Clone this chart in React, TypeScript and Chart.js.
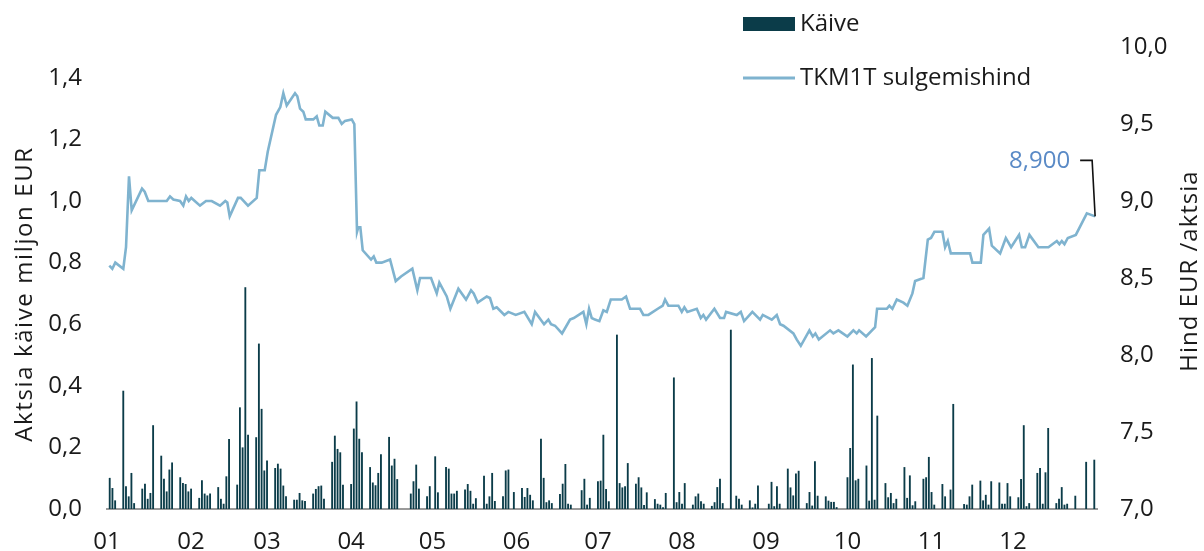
import React, { useEffect, useRef } from "react";
import { Chart, registerables } from "chart.js";

Chart.register(...registerables);

// Day of year (0 = 1 Jan) of each drawn price vertex, and the closing price (EUR)
const priceDays = [0.85, 1.95, 3.06, 6.01, 7.01, 8.11, 9.11, 12.91, 13.9, 15.23, 22.01, 23.23, 24.45, 26.92, 28.13, 29.13, 30.13, 31.08, 34.29, 36.5, 38.61, 41.67, 43.62, 44.36, 45.24, 48.3, 49.3, 51.99, 55.2, 56.16, 58.15, 59.26, 62.32, 63.9, 65.01, 66.26, 69.32, 70.17, 71.17, 72.38, 73.27, 76.07, 77.32, 78.28, 79.54, 80.49, 83.22, 85.29, 86.54, 87.76, 90.23, 91.19, 92.18, 92.66, 93.4, 94.28, 97.35, 98.34, 99.3, 101.29, 104.35, 106.45, 108.41, 112.57, 114.42, 115.41, 119.47, 121.57, 122.53, 125.26, 126.59, 129.54, 132.37, 134.22, 135.2, 136.69, 140.01, 141.2, 142.44, 143.69, 146.5, 147.97, 150.7, 153.87, 156.6, 157.82, 161.14, 162.72, 163.7, 165.19, 167.77, 170.72, 172.1, 175.63, 176.73, 177.73, 178.72, 179.9, 181.53, 183.0, 184.26, 185.73, 189.79, 191.37, 192.85, 196.53, 197.75, 199.6, 203.91, 204.9, 205.75, 206.97, 210.66, 211.91, 212.87, 213.97, 217.44, 218.91, 219.87, 220.87, 223.93, 226.03, 227.5, 228.24, 232.19, 233.67, 234.88, 237.94, 240.78, 241.78, 245.1, 246.94, 248.16, 249.4, 253.06, 254.31, 255.79, 258.96, 260.21, 261.17, 262.43, 266.59, 267.81, 269.66, 272.97, 275.18, 276.4, 277.29, 279.87, 283.19, 283.92, 287.5, 288.46, 289.57, 291.19, 293.62, 295.1, 296.94, 297.94, 301.0, 302.62, 303.8, 305.05, 308.0, 309.0, 309.99, 311.1, 318.21, 319.06, 322.16, 323.12, 325.22, 326.22, 329.28, 331.38, 333.33, 336.28, 337.28, 338.5, 340.08, 343.4, 347.09, 350.18, 351.14, 352.03, 353.0, 354.24, 357.19, 361.25, 364.31];
const priceValues = [8.58, 8.56, 8.60, 8.56, 8.70, 9.16, 8.94, 9.08, 9.06, 9.00, 9.00, 9.03, 9.01, 9.00, 8.97, 9.03, 9.00, 9.02, 8.97, 9.00, 9.00, 8.97, 9.00, 8.99, 8.90, 9.02, 9.02, 8.97, 9.02, 9.20, 9.20, 9.32, 9.56, 9.61, 9.70, 9.62, 9.70, 9.68, 9.60, 9.58, 9.53, 9.53, 9.55, 9.49, 9.49, 9.58, 9.54, 9.54, 9.50, 9.52, 9.53, 9.50, 8.80, 8.83, 8.83, 8.68, 8.62, 8.64, 8.60, 8.60, 8.62, 8.48, 8.51, 8.56, 8.42, 8.50, 8.50, 8.40, 8.47, 8.38, 8.30, 8.43, 8.36, 8.42, 8.40, 8.34, 8.38, 8.37, 8.30, 8.31, 8.26, 8.28, 8.26, 8.28, 8.20, 8.28, 8.20, 8.23, 8.20, 8.19, 8.14, 8.23, 8.24, 8.28, 8.20, 8.30, 8.24, 8.23, 8.22, 8.29, 8.28, 8.36, 8.36, 8.38, 8.30, 8.30, 8.26, 8.26, 8.31, 8.32, 8.36, 8.32, 8.32, 8.28, 8.31, 8.28, 8.30, 8.24, 8.26, 8.23, 8.30, 8.24, 8.24, 8.28, 8.26, 8.28, 8.22, 8.28, 8.23, 8.26, 8.23, 8.26, 8.20, 8.19, 8.14, 8.10, 8.06, 8.16, 8.12, 8.14, 8.10, 8.16, 8.14, 8.16, 8.12, 8.16, 8.14, 8.16, 8.12, 8.18, 8.30, 8.30, 8.32, 8.30, 8.36, 8.34, 8.32, 8.40, 8.48, 8.50, 8.75, 8.76, 8.80, 8.80, 8.70, 8.74, 8.66, 8.66, 8.60, 8.60, 8.78, 8.82, 8.71, 8.66, 8.76, 8.70, 8.78, 8.70, 8.70, 8.78, 8.70, 8.70, 8.74, 8.72, 8.74, 8.72, 8.76, 8.78, 8.92, 8.90];

// Day of year of each trading day with turnover, and the turnover (million EUR)
const volDays = [1, 2, 3, 6, 7, 8, 9, 10, 13, 14, 15, 16, 17, 20, 21, 22, 23, 24, 27, 28, 29, 30, 31, 34, 35, 36, 37, 38, 41, 42, 43, 44, 45, 48, 49, 50, 51, 52, 55, 56, 57, 58, 59, 62, 63, 64, 65, 66, 69, 70, 71, 72, 73, 76, 77, 78, 79, 80, 83, 84, 85, 86, 87, 90, 91, 92, 93, 94, 97, 98, 99, 100, 101, 104, 105, 106, 107, 112, 113, 114, 115, 118, 119, 121, 122, 125, 126, 127, 128, 129, 132, 133, 134, 135, 136, 139, 140, 141, 142, 143, 146, 147, 148, 150, 153, 154, 155, 156, 157, 160, 161, 162, 163, 164, 167, 168, 169, 170, 171, 175, 176, 177, 178, 181, 182, 183, 184, 185, 188, 189, 190, 191, 192, 195, 196, 197, 198, 199, 202, 203, 204, 205, 206, 209, 210, 211, 212, 213, 216, 217, 218, 219, 220, 223, 224, 225, 226, 227, 230, 232, 233, 234, 237, 238, 239, 240, 244, 245, 246, 247, 248, 251, 252, 253, 254, 255, 258, 259, 260, 261, 262, 265, 266, 267, 268, 269, 273, 274, 275, 276, 277, 280, 281, 282, 283, 284, 287, 288, 289, 290, 291, 294, 295, 296, 297, 298, 301, 302, 303, 304, 305, 308, 309, 311, 312, 316, 317, 318, 319, 322, 323, 324, 325, 326, 329, 330, 331, 332, 333, 336, 337, 338, 339, 340, 343, 344, 345, 346, 347, 350, 351, 352, 353, 354, 357, 361, 364];
const volValues = [0.100, 0.067, 0.027, 0.383, 0.073, 0.040, 0.116, 0.018, 0.065, 0.081, 0.032, 0.051, 0.271, 0.172, 0.097, 0.056, 0.127, 0.150, 0.102, 0.083, 0.080, 0.056, 0.065, 0.035, 0.092, 0.049, 0.043, 0.049, 0.070, 0.032, 0.016, 0.105, 0.226, 0.078, 0.329, 0.199, 0.719, 0.240, 0.232, 0.536, 0.324, 0.124, 0.156, 0.132, 0.146, 0.130, 0.075, 0.040, 0.029, 0.029, 0.051, 0.027, 0.025, 0.049, 0.064, 0.073, 0.075, 0.032, 0.152, 0.237, 0.194, 0.183, 0.078, 0.080, 0.260, 0.348, 0.227, 0.183, 0.135, 0.085, 0.076, 0.116, 0.177, 0.233, 0.140, 0.162, 0.096, 0.049, 0.089, 0.143, 0.065, 0.040, 0.073, 0.170, 0.053, 0.135, 0.130, 0.049, 0.049, 0.058, 0.062, 0.080, 0.058, 0.016, 0.034, 0.107, 0.016, 0.040, 0.116, 0.025, 0.040, 0.124, 0.127, 0.054, 0.067, 0.038, 0.067, 0.045, 0.027, 0.227, 0.100, 0.021, 0.027, 0.018, 0.048, 0.081, 0.145, 0.016, 0.013, 0.060, 0.097, 0.013, 0.035, 0.089, 0.091, 0.240, 0.064, 0.024, 0.565, 0.083, 0.069, 0.073, 0.148, 0.081, 0.102, 0.069, 0.012, 0.053, 0.031, 0.016, 0.013, 0.005, 0.051, 0.426, 0.021, 0.054, 0.016, 0.083, 0.013, 0.040, 0.049, 0.024, 0.016, 0.009, 0.021, 0.070, 0.097, 0.018, 0.581, 0.042, 0.032, 0.013, 0.027, 0.004, 0.016, 0.075, 0.016, 0.087, 0.008, 0.073, 0.016, 0.130, 0.069, 0.043, 0.114, 0.123, 0.018, 0.054, 0.010, 0.154, 0.042, 0.040, 0.026, 0.022, 0.022, 0.005, 0.102, 0.197, 0.468, 0.092, 0.097, 0.140, 0.026, 0.489, 0.029, 0.302, 0.083, 0.037, 0.051, 0.018, 0.032, 0.135, 0.035, 0.108, 0.011, 0.024, 0.097, 0.102, 0.168, 0.054, 0.013, 0.080, 0.040, 0.062, 0.340, 0.015, 0.013, 0.040, 0.078, 0.091, 0.027, 0.045, 0.013, 0.089, 0.085, 0.016, 0.016, 0.083, 0.040, 0.037, 0.096, 0.271, 0.008, 0.018, 0.116, 0.132, 0.016, 0.118, 0.262, 0.018, 0.032, 0.070, 0.013, 0.016, 0.042, 0.152, 0.159];

// Month tick positions (day of year of the 1st) and their labels
const monthStarts = [0, 31, 59, 90, 120, 151, 181, 212, 243, 273, 304, 334];
const monthLabels = ["01", "02", "03", "04", "05", "06", "07", "08", "09", "10", "11", "12"];

const volumeLabel = "Käive";
const priceLabel = "TKM1T sulgemishind";
const leftTitle = "Aktsia käive miljon EUR";
const rightTitle = "Hind EUR /aktsia";
const lastPriceLabel = "8,900";

const FONT = "'Open Sans', 'Liberation Sans', sans-serif";
const BAR_COLOR = "#0b3c49";
const LINE_COLOR = "#7fb3cf";
const TEXT_COLOR = "#1a1a1a";

const fmt1 = (v: number) => v.toFixed(1).replace(".", ",");

const overlayPlugin = {
  id: "overlay",
  afterDraw(chart: any) {
    const ctx = chart.ctx as any;
    ctx.save();
    ctx.font = `24px ${FONT}`;
    ctx.textBaseline = "middle";
    ctx.fillStyle = TEXT_COLOR;

    // legend
    ctx.fillStyle = BAR_COLOR;
    ctx.fillRect(743, 17, 52, 14);
    ctx.fillStyle = TEXT_COLOR;
    ctx.textAlign = "left";
    ctx.fillText(volumeLabel, 800, 24);
    ctx.strokeStyle = LINE_COLOR;
    ctx.lineWidth = 3;
    ctx.beginPath();
    ctx.moveTo(743, 78);
    ctx.lineTo(795, 78);
    ctx.stroke();
    ctx.fillText(priceLabel, 800, 78);

    // axis titles (both reading bottom to top)
    ctx.textAlign = "center";
    ctx.save();
    ctx.letterSpacing = "1.6px";
    ctx.translate(25, 294);
    ctx.rotate(-Math.PI / 2);
    ctx.fillText(leftTitle, 0, 0);
    ctx.restore();
    ctx.save();
    ctx.letterSpacing = "1px";
    ctx.translate(1190, 271);
    ctx.rotate(-Math.PI / 2);
    ctx.fillText(rightTitle, 0, 0);
    ctx.restore();

    // last price annotation
    const meta = chart.getDatasetMeta(0);
    const last = meta.data[meta.data.length - 1];
    if (last) {
      const px = last.x;
      const py = last.y;
      const ly = py - 56;
      ctx.strokeStyle = "#111";
      ctx.lineWidth = 1.6;
      ctx.beginPath();
      ctx.moveTo(px - 15, ly);
      ctx.lineTo(px - 3, ly);
      ctx.lineTo(px, py);
      ctx.stroke();
      ctx.fillStyle = "#5a8ac6";
      ctx.textAlign = "right";
      ctx.fillText(lastPriceLabel, px - 25, ly + 1);
    }
    ctx.restore();
  },
};

export default function App() {
  const canvasRef = useRef<HTMLCanvasElement | null>(null);

  useEffect(() => {
    if (!canvasRef.current) return;
    Chart.defaults.font.family = FONT;
    Chart.defaults.font.size = 24;
    Chart.defaults.color = TEXT_COLOR;

    const chart = new Chart(canvasRef.current, {
      type: "bar",
      data: {
        datasets: [
          {
            type: "line",
            label: priceLabel,
            data: priceDays.map((d, i) => ({ x: d, y: priceValues[i] })),
            yAxisID: "y1",
            borderColor: LINE_COLOR,
            borderWidth: 2.6,
            pointRadius: 0,
            tension: 0,
            order: 1,
          },
          {
            type: "bar",
            label: volumeLabel,
            data: volDays.map((d, i) => ({ x: d, y: volValues[i] })),
            yAxisID: "y",
            backgroundColor: BAR_COLOR,
            barThickness: 1.2,
            order: 2,
          },
        ] as any,
      },
      options: {
        animation: false,
        responsive: true,
        maintainAspectRatio: false,
        layout: { padding: { top: 47, left: 0, right: 0, bottom: 0 } },
        plugins: { legend: { display: false }, tooltip: { enabled: false } },
        scales: {
          x: {
            type: "linear",
            min: 0,
            max: 365,
            offset: false,
            grid: { display: false, drawTicks: false },
            border: { display: true, color: "#9a9a9a", width: 2 },
            afterBuildTicks: (scale: any) => {
              scale.ticks = monthStarts.map((v) => ({ value: v }));
            },
            afterFit: (scale: any) => {
              scale.height = 42;
            },
            ticks: {
              autoSkip: false,
              maxRotation: 0,
              padding: 19,
              callback: (v: any) => {
                const i = monthStarts.indexOf(Number(v));
                return i >= 0 ? monthLabels[i] : "";
              },
            },
          },
          y: {
            type: "linear",
            position: "left",
            min: 0,
            max: 1.5,
            grid: { display: false, drawTicks: false },
            border: { display: false },
            afterFit: (scale: any) => {
              scale.width = 107;
            },
            ticks: {
              stepSize: 0.2,
              includeBounds: false,
              padding: 25,
              callback: (v: any) => fmt1(Number(v)),
            },
          },
          y1: {
            type: "linear",
            position: "right",
            min: 7,
            max: 10,
            grid: { display: false, drawTicks: false },
            border: { display: false },
            afterFit: (scale: any) => {
              scale.width = 107;
            },
            ticks: {
              stepSize: 0.5,
              padding: 23,
              callback: (v: any) => fmt1(Number(v)),
            },
          },
        },
      } as any,
      plugins: [overlayPlugin],
    });
    return () => chart.destroy();
  }, []);

  return (
    <div style={{ position: "absolute", left: 0, top: 0, width: 1204, height: 551, background: "#fff" }}>
      <canvas ref={canvasRef} />
    </div>
  );
}
